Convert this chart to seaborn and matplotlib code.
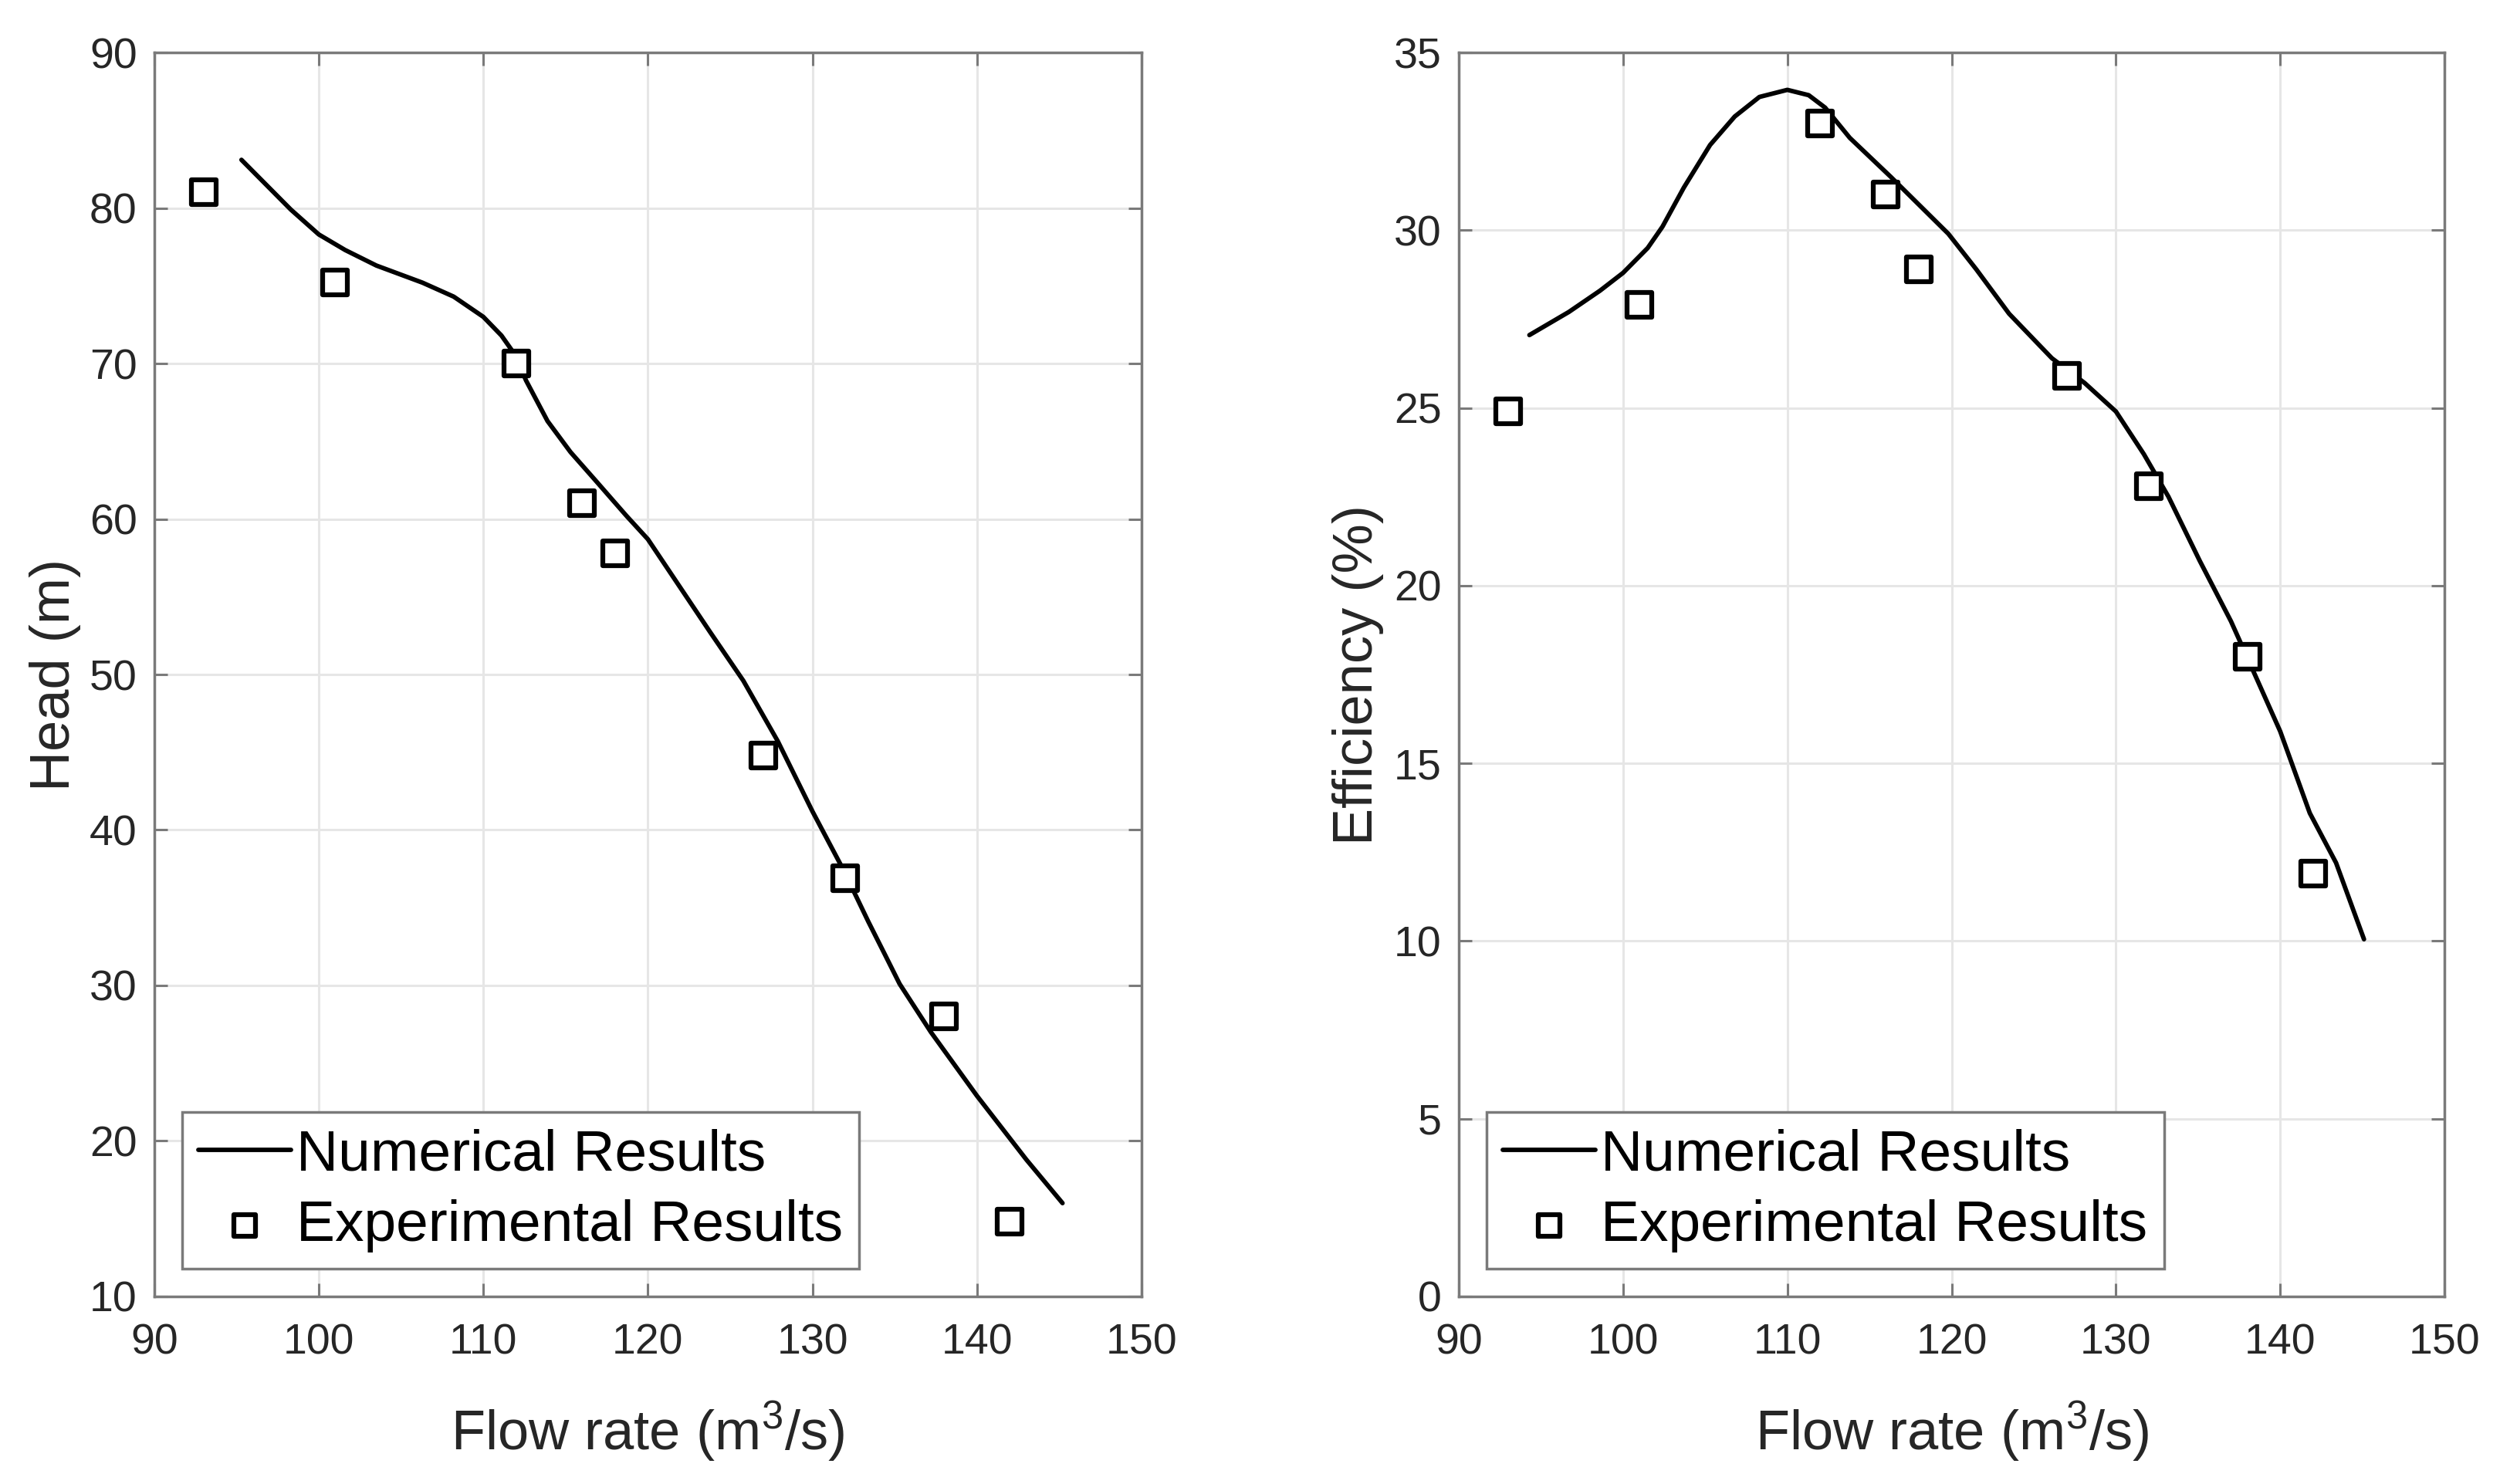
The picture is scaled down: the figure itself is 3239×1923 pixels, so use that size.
import matplotlib
matplotlib.use("Agg")
import matplotlib.pyplot as plt
import seaborn as sns
import pandas as pd

# ---- data ----
exp_flow = [93, 101, 112, 116, 118, 127, 132, 138, 142]
exp_head = [81.0, 75.2, 70.0, 61.0, 57.8, 44.8, 36.9, 28.0, 14.8]
exp_eff = [24.9, 27.9, 33.0, 31.0, 28.9, 25.9, 22.8, 18.0, 11.9]

num_flow_head = [95.3, 98.3, 100.0, 101.6, 103.5, 106.3, 108.2, 110.0, 111.1, 111.9,
                 112.6, 113.9, 115.3, 116.8, 118.7, 120.0, 121.9, 123.8, 125.8,
                 127.9, 130.0, 131.9, 133.4, 134.4, 135.3, 137.2, 140.0, 143.0, 145.2]
num_head = [83.1, 79.9, 78.3, 77.3, 76.3, 75.2, 74.3, 73.0, 71.8, 70.6,
            68.9, 66.3, 64.3, 62.5, 60.2, 58.7, 55.7, 52.7, 49.6,
            45.7, 41.2, 37.4, 34.1, 32.0, 30.1, 27.0, 22.9, 18.8, 16.0]

num_flow_eff = [94.3, 96.7, 98.6, 100.0, 101.5, 102.4, 103.7, 105.3, 106.8, 108.3,
                110.0, 111.3, 112.3, 113.8, 116.3, 119.8, 121.5, 123.5, 126.1,
                128.1, 130.0, 131.7, 133.2, 135.1, 137.0, 138.6, 140.0, 141.8,
                143.4, 145.1]
num_eff = [27.05, 27.7, 28.3, 28.8, 29.5, 30.1, 31.2, 32.4, 33.2, 33.75,
           33.95, 33.8, 33.45, 32.6, 31.5, 29.9, 28.9, 27.65, 26.4,
           25.7, 24.9, 23.7, 22.5, 20.7, 19.0, 17.35, 15.9, 13.6,
           12.2, 10.05]

head_yticks = [10, 20, 30, 40, 50, 60, 70, 80, 90]
eff_yticks = [0, 5, 10, 15, 20, 25, 30, 35]
xticks = [90, 100, 110, 120, 130, 140, 150]

sns.set_theme(style="whitegrid")
plt.rcParams['font.family'] = ['Liberation Sans', 'DejaVu Sans']
plt.rcParams['mathtext.fontset'] = 'custom'
plt.rcParams['mathtext.rm'] = 'Liberation Sans'

fig = plt.figure(figsize=(32.39, 19.23), dpi=100)
ax1 = fig.add_axes([0.0617, 0.1264, 0.3949, 0.8382])
ax2 = fig.add_axes([0.5835, 0.1264, 0.3943, 0.8382])

spine_c = '#7a7a7a'
grid_c = '#e6e6e6'
text_c = '#262626'


def draw(ax, nflow, nval, eval_, ylim, yticks, ylabel, ylab_x):
    dnum = pd.DataFrame({'flow': nflow, 'val': nval})
    dexp = pd.DataFrame({'flow': exp_flow, 'val': eval_})
    sns.lineplot(data=dnum, x='flow', y='val', ax=ax, color='black', lw=4.2,
                 label='Numerical Results', sort=False, zorder=3)
    sns.scatterplot(data=dexp, x='flow', y='val', ax=ax, marker='s', s=560,
                    facecolor='white', edgecolor='black', linewidth=4.5,
                    label='Experimental Results', zorder=4)
    ax.set_xlim(90, 150)
    ax.set_ylim(*ylim)
    ax.set_xticks(xticks)
    ax.set_yticks(yticks)
    ax.grid(True, color=grid_c, lw=2.2)
    for s in ax.spines.values():
        s.set_visible(True)
        s.set_color(spine_c)
        s.set_linewidth(2.5)
    ax.tick_params(direction='in', length=12, width=2.2, color=spine_c,
                   labelsize=40, labelcolor=text_c,
                   top=True, right=True, bottom=True, left=True)
    ax.tick_params(axis='x', pad=25)
    ax.tick_params(axis='y', pad=16)
    ax.set_xlabel(r'Flow rate (m$^{3}$/s)', fontsize=52, color=text_c)
    ax.set_ylabel(ylabel, fontsize=52, color=text_c)
    ax.xaxis.set_label_coords(0.5, -0.1086)
    ax.xaxis.label.set_va('center')
    ax.yaxis.set_label_coords(ylab_x, 0.5)
    ax.yaxis.label.set_va('center')
    leg = ax.legend(loc='lower left', fontsize=54, frameon=True, fancybox=False,
                    borderaxespad=0.48, handlelength=1.6, handletextpad=0.1,
                    borderpad=0.28, labelspacing=0.3, markerscale=0.85)
    leg.get_frame().set_edgecolor(spine_c)
    leg.get_frame().set_linewidth(2.5)
    leg.get_frame().set_alpha(1)
    for t in leg.get_texts():
        t.set_color('black')


draw(ax1, num_flow_head, num_head, exp_head, (10, 90), head_yticks, 'Head (m)', -0.100)
draw(ax2, num_flow_eff, num_eff, exp_eff, (0, 35), eff_yticks, 'Efficiency (%)', -0.102)

fig.savefig('out.png', dpi=100, facecolor='white')
